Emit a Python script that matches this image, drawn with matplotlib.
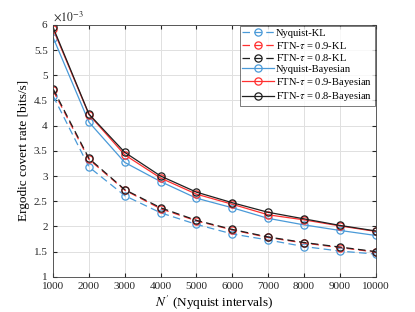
import numpy as np
import matplotlib
matplotlib.use('Agg')
import matplotlib.pyplot as plt
from matplotlib.ticker import FuncFormatter

plt.rcParams['font.family'] = ['Liberation Serif', 'DejaVu Serif']
plt.rcParams['mathtext.fontset'] = 'stix'

N = [1000, 2000, 3000, 4000, 5000, 6000, 7000, 8000, 9000, 10000]

# values in units of 1e-3 bits/s
nyq_kl = [4.59, 3.18, 2.61, 2.27, 2.04, 1.85, 1.73, 1.60, 1.51, 1.45]
ftn09_kl = [4.70, 3.33, 2.72, 2.35, 2.11, 1.93, 1.78, 1.67, 1.58, 1.49]
ftn08_kl = [4.73, 3.35, 2.73, 2.37, 2.12, 1.94, 1.79, 1.68, 1.59, 1.50]
nyq_bay = [5.75, 4.07, 3.27, 2.89, 2.56, 2.37, 2.16, 2.03, 1.92, 1.82]
ftn09_bay = [5.92, 4.22, 3.42, 2.96, 2.64, 2.44, 2.23, 2.13, 2.01, 1.90]
ftn08_bay = [5.95, 4.23, 3.47, 3.00, 2.68, 2.47, 2.28, 2.15, 2.02, 1.91]

blue = '#4a9ad8'
red = '#ff3030'
black = '#202020'

fig = plt.figure(figsize=(4.15, 3.12), dpi=100)
ax = fig.add_axes([0.128, 0.113, 0.777, 0.807])

series = [
    (nyq_kl, blue, '--', 'Nyquist-KL'),
    (ftn09_kl, red, '--', r'FTN-$\tau$ = 0.9-KL'),
    (ftn08_kl, black, '--', r'FTN-$\tau$ = 0.8-KL'),
    (nyq_bay, blue, '-', 'Nyquist-Bayesian'),
    (ftn09_bay, red, '-', r'FTN-$\tau$ = 0.9-Bayesian'),
    (ftn08_bay, black, '-', r'FTN-$\tau$ = 0.8-Bayesian'),
]
for vals, c, ls, lab in series:
    line, = ax.plot(N, np.array(vals) * 1e-3, color=c, linestyle=ls, marker='o',
                    markersize=5.2, fillstyle='none', markeredgewidth=0.9,
                    linewidth=0.9, label=lab)
    if ls == '--':
        line.set_dashes((6, 3.5))

ax.set_xlim(1000, 10000)
ax.set_ylim(1e-3, 6e-3)
ax.set_xticks(N)
ax.set_yticks(np.arange(1, 6.01, 0.5) * 1e-3)
ax.yaxis.set_major_formatter(FuncFormatter(lambda v, p: '%g' % round(v * 1e3, 2)))
ax.text(0.0, 1.005, r'$\times 10^{-3}$', transform=ax.transAxes,
        fontsize=8.5, ha='left', va='bottom', color='#262626')
ax.tick_params(direction='in', labelsize=8, top=True, right=True,
               length=3, pad=4, colors='#262626')
ax.grid(True, color='#e0e0e0', linewidth=0.7)
for s in ax.spines.values():
    s.set_color('#404040')
    s.set_linewidth(0.6)

ax.set_xlabel(r"$N^{\prime}$ (Nyquist intervals)", fontsize=9.5, labelpad=2)
ax.set_ylabel('Ergodic covert rate [bits/s]', fontsize=9.5, labelpad=3)

leg = ax.legend(loc='upper right', fontsize=7.6, frameon=True, fancybox=False,
                edgecolor='#404040', borderpad=0.25, labelspacing=0.15,
                handlelength=3.0, handletextpad=0.2, borderaxespad=0.1)
leg.get_frame().set_linewidth(0.6)

fig.savefig('out.png', dpi=100)
